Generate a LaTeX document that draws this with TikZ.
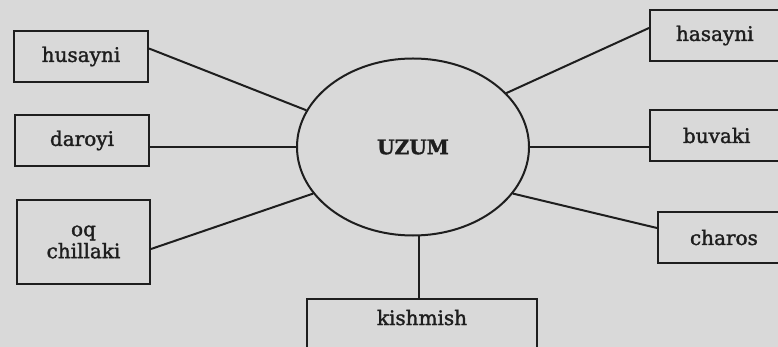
\documentclass[tikz,border=0pt]{standalone}
\usepackage{fontspec}
\setmainfont{DejaVu Serif}[FakeBold=1.6]
\usetikzlibrary{shapes.geometric,calc}
\definecolor{paper}{HTML}{D9D9D9}
\definecolor{ink}{HTML}{1E1E1E}
\tikzset{
  lbox/.style={draw=ink, line width=2pt, minimum width=134pt, minimum height=51pt, inner sep=0pt, text=ink, align=center, font=\fontsize{20}{21}\selectfont},
  rbox/.style={draw=ink, line width=2pt, minimum height=51pt, anchor=west, inner ysep=0pt, text=ink, font=\fontsize{20}{21}\selectfont},
  link/.style={draw=ink, line width=2pt}
}
\begin{document}
\begin{tikzpicture}[x=1pt,y=-1pt]
\fill[paper] (0,0) rectangle (778,347);
\useasboundingbox (0,0) rectangle (778,347);
\clip (0,0) rectangle (778,347);
\node[draw=ink, line width=2pt, ellipse, minimum width=232pt, minimum height=177pt, inner sep=0pt, text=ink, font=\fontsize{20}{21}\selectfont\bfseries] (u) at (413,147) {UZUM};
\node[lbox] (hus) at (81,56.5) {husayni};
\node[lbox] (dar) at (82,140.5) {daroyi};
\node[lbox, minimum width=133pt, minimum height=84pt] (oq) at (83.5,242) {oq\\[1pt]chillaki};
\node[rbox, inner xsep=26pt] (has) at (649,35.5) {hasayni};
\node[rbox, inner xsep=33pt] (buv) at (649,135.5) {buvaki};
\node[rbox, inner xsep=32pt] (cha) at (657,237.5) {charos};
\node[draw=ink, line width=2pt, anchor=north, minimum width=230pt, text height=16pt, text depth=40pt, inner ysep=10pt, text=ink, font=\fontsize{20}{21}\selectfont] (kis) at (422,298) {kishmish};
\draw[link] ($(hus.east)+(0,-8)$) -- (u.161);
\draw[link] (u.west -| dar.east) -- (u.west);
\draw[link] ($(oq.east)+(0,7)$) -- (u.205);
\draw[link] ($(has.west)+(0,-7.5)$) -- (u.30);
\draw[link] (u.east) -- (u.east -| buv.west);
\draw[link] ($(cha.west)+(0,-9.5)$) -- (u.-25);
\draw[link] (u.-86) -- (u.-86 |- kis.north);
\end{tikzpicture}
\end{document}
